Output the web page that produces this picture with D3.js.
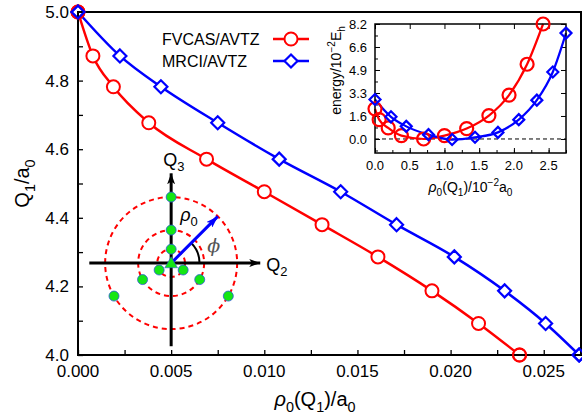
<!DOCTYPE html>
<html>
<head>
<meta charset="utf-8">
<script src="https://cdn.jsdelivr.net/npm/d3@7"></script>
<style>
  html, body { margin: 0; padding: 0; background: #fff; }
  svg { display: block; font-family: "Liberation Sans", Arial, Helvetica, sans-serif; }
</style>
</head>
<body>
<svg id="chart" width="582" height="416"></svg>
<script>
// ---- main panel data: Q1 along the path, rho0 for each method ----
const q1Values = [5.0, 4.872, 4.782, 4.677, 4.571, 4.476, 4.380, 4.286, 4.187, 4.092, 4.0];
const rhoFvcas = [0, 0.0008, 0.0019, 0.0038, 0.0069, 0.0100, 0.0131, 0.0161, 0.0190, 0.0215, 0.0237];
const rhoMrci  = [0, 0.00225, 0.00445, 0.0075, 0.0108, 0.0141, 0.0171, 0.0202, 0.0229, 0.0251, 0.0269];
const seriesNames = ["FVCAS/AVTZ", "MRCI/AVTZ"];
const xTicks = [0, 0.005, 0.010, 0.015, 0.020, 0.025];
const yTicks = [4.0, 4.2, 4.4, 4.6, 4.8, 5.0];

// ---- inset data: energy vs rho0 (in 10^-2 a0) ----
const insetRhoFvcas = [0, 0.06, 0.19, 0.38, 0.70, 1.00, 1.32, 1.64, 1.93, 2.19, 2.42];
const insetEFvcas   = [2.15, 1.38, 0.79, 0.24, 0.0, 0.24, 0.74, 1.67, 3.13, 5.33, 8.2];
const insetRhoMrci  = [0, 0.23, 0.45, 0.77, 1.11, 1.44, 1.77, 2.07, 2.33, 2.56, 2.75];
const insetEMrci    = [2.82, 1.58, 0.90, 0.31, -0.04, 0.12, 0.47, 1.38, 2.77, 4.78, 7.55];
const insetXTicks = [0, 0.5, 1.0, 1.5, 2.0, 2.5];
const insetYTicks = [0, 1.64, 3.28, 4.92, 6.56, 8.2];

// ---- schematic of the Q2/Q3 plane (unit = outer ring radius) ----
const ringRadii = [0.21, 0.5, 1.0];
const pointAngles = [90, 210, 330];
const rhoArrowAngle = 45;

const RED = "#ff0000", BLUE = "#0000ff", GREEN = "#14e614";
const svg = d3.select("#chart");

// text with sub/superscripts; parts = [text, mode, italic]
function rich(sel, parts, size) {
  let shift = 0;
  parts.forEach(([s, mode, ital]) => {
    const target = mode === "sub" ? 0.3 * size : mode === "sup" ? -0.42 * size : 0;
    const t = sel.append("tspan")
      .attr("dy", (target - shift).toFixed(2))
      .attr("font-size", mode ? size * 0.72 : size)
      .text(s);
    if (ital) t.attr("font-style", "italic");
    shift = target;
  });
  return sel;
}

const defs = svg.append("defs");
function arrowMarker(id, color, w, h) {
  defs.append("marker").attr("id", id)
    .attr("viewBox", `0 0 ${w} ${h}`).attr("refX", w).attr("refY", h / 2)
    .attr("markerWidth", w).attr("markerHeight", h).attr("markerUnits", "userSpaceOnUse")
    .attr("orient", "auto")
    .append("path").attr("d", `M0,0L${w},${h / 2}L0,${h}L${w * 0.25},${h / 2}Z`).attr("fill", color);
}
arrowMarker("arrBlack", "#000", 11, 8);
arrowMarker("arrBlue", BLUE, 12, 8);

// ================= main panel =================
const M = { left: 78, right: 581, top: 12, bottom: 355 };
const x = d3.scaleLinear().domain([0, 0.027]).range([M.left, M.right]);
const y = d3.scaleLinear().domain([4.0, 5.0]).range([M.bottom, M.top]);

// ticks (inward)
const gx = svg.append("g").attr("transform", `translate(0,${M.bottom})`)
  .call(d3.axisBottom(x).tickValues(d3.range(0, 0.0271, 0.0025)).tickSize(-5).tickFormat(""));
const gy = svg.append("g").attr("transform", `translate(${M.left},0)`)
  .call(d3.axisLeft(y).tickValues(d3.range(4.0, 5.001, 0.1)).tickSize(-5).tickFormat(""));
[gx, gy].forEach(g => { g.select(".domain").remove(); g.selectAll("line").attr("stroke", "#000").attr("stroke-width", 1.3); });

svg.append("g").selectAll("text").data(xTicks).join("text")
  .attr("x", d => x(d)).attr("y", M.bottom + 22).attr("text-anchor", "middle")
  .attr("font-size", 17).text(d3.format(".3f"));
svg.append("g").selectAll("text").data(yTicks).join("text")
  .attr("x", M.left - 9).attr("y", d => y(d) + 6).attr("text-anchor", "end")
  .attr("font-size", 17).text(d3.format(".1f"));

// axis titles
rich(svg.append("text").attr("x", 315).attr("y", 406).attr("text-anchor", "middle"),
  [["ρ", "", true], ["0", "sub"], ["(Q", ""], ["1", "sub"], [")/a", ""], ["0", "sub"]], 20);
rich(svg.append("text").attr("transform", `translate(29,${(M.top + M.bottom) / 2}) rotate(-90)`).attr("text-anchor", "middle"),
  [["Q", ""], ["1", "sub"], ["/a", ""], ["0", "sub"]], 20);

// ---- schematic ----
const cx = x(0.005), cy = y(4.268);
const u = d3.scaleLinear().domain([0, 1]).range([0, 66]);
const pol = (r, deg) => [cx + u(r) * Math.cos(deg * Math.PI / 180), cy - u(r) * Math.sin(deg * Math.PI / 180)];
const sch = svg.append("g");
sch.selectAll("circle.ring").data(ringRadii).join("circle").attr("class", "ring")
  .attr("cx", cx).attr("cy", cy).attr("r", d => u(d))
  .attr("fill", "none").attr("stroke", RED).attr("stroke-width", 2).attr("stroke-dasharray", "5,4");
sch.append("line").attr("x1", cx - u(1.24)).attr("y1", cy).attr("x2", cx + u(1.35)).attr("y2", cy)
  .attr("stroke", "#000").attr("stroke-width", 3).attr("marker-end", "url(#arrBlack)");
sch.append("line").attr("x1", cx).attr("y1", cy + u(1.26)).attr("x2", cx).attr("y2", cy - u(1.36))
  .attr("stroke", "#000").attr("stroke-width", 3).attr("marker-end", "url(#arrBlack)");
// angle arc
const arc = d3.arc().innerRadius(u(0.43)).outerRadius(u(0.43)).startAngle(Math.PI / 2 - rhoArrowAngle * Math.PI / 180).endAngle(Math.PI / 2);
sch.append("path").attr("transform", `translate(${cx},${cy})`).attr("d", arc())
  .attr("fill", "none").attr("stroke", "#000").attr("stroke-width", 2);
// rho0 arrow
const tip = pol(1.0, rhoArrowAngle);
sch.append("line").attr("x1", cx).attr("y1", cy).attr("x2", tip[0]).attr("y2", tip[1])
  .attr("stroke", BLUE).attr("stroke-width", 3).attr("marker-end", "url(#arrBlue)");
// sampled points
const pts = [];
ringRadii.forEach(r => pointAngles.forEach(a => pts.push(pol(r, a))));
sch.selectAll("circle.pt").data(pts).join("circle").attr("class", "pt")
  .attr("cx", d => d[0]).attr("cy", d => d[1]).attr("r", 5)
  .attr("fill", GREEN).attr("stroke", "#2a5bd7").attr("stroke-width", 0.8);
sch.append("path").attr("transform", `translate(${cx},${cy + 1})`)
  .attr("d", d3.symbol(d3.symbolTriangle, 70)()).attr("fill", GREEN).attr("stroke", "#2a5bd7").attr("stroke-width", 0.6);
// labels
rich(sch.append("text").attr("x", cx + u(1.44)).attr("y", cy + 8), [["Q", ""], ["2", "sub"]], 18);
rich(sch.append("text").attr("x", cx - 8).attr("y", cy - u(1.47)), [["Q", ""], ["3", "sub"]], 18);
rich(sch.append("text").attr("x", cx + 9).attr("y", cy - 42), [["ρ", "", true], ["0", "sub"]], 18);
sch.append("text").attr("x", cx + 36).attr("y", cy - 11).attr("font-size", 19).attr("font-style", "italic")
  .attr("font-family", "'DejaVu Serif', serif").attr("fill", "#555").text("ϕ");

// ---- curves ----
const line = d3.line().curve(d3.curveMonotoneX);
const mainSeries = [
  { name: seriesNames[0], color: RED, pts: rhoFvcas.map((r, i) => [x(r), y(q1Values[i])]), sym: "circle" },
  { name: seriesNames[1], color: BLUE, pts: rhoMrci.map((r, i) => [x(r), y(q1Values[i])]), sym: "diamond" }
];
function marker(g, sym, color, size) {
  if (sym === "circle") {
    return g.append("circle").attr("r", size).attr("fill", "#fff").attr("stroke", color).attr("stroke-width", 2);
  }
  const s = size;
  return g.append("path").attr("d", `M0,${-s}L${s},0L0,${s}L${-s},0Z`)
    .attr("fill", "#fff").attr("stroke", color).attr("stroke-width", 2.2);
}
mainSeries.forEach(s => {
  svg.append("path").attr("d", line(s.pts)).attr("fill", "none").attr("stroke", s.color).attr("stroke-width", 2.5);
});
mainSeries.forEach(s => {
  s.pts.forEach(p => {
    const g = svg.append("g").attr("transform", `translate(${p[0]},${p[1]})`);
    marker(g, s.sym, s.color, 6.5);
  });
});

// frame
svg.append("rect").attr("x", M.left).attr("y", M.top).attr("width", M.right - M.left).attr("height", M.bottom - M.top)
  .attr("fill", "none").attr("stroke", "#000").attr("stroke-width", 2);
// redraw end markers that sit on the frame
mainSeries.forEach(s => {
  [s.pts[0], s.pts[s.pts.length - 1]].forEach(p => {
    const g = svg.append("g").attr("transform", `translate(${p[0]},${p[1]})`);
    marker(g, s.sym, s.color, 6.5).attr("fill", "none");
  });
});

// legend
mainSeries.forEach((s, i) => {
  const ly = 39 + i * 22;
  svg.append("text").attr("x", 162).attr("y", ly + 6).attr("font-size", 16).text(s.name);
  svg.append("line").attr("x1", 273).attr("x2", 309).attr("y1", ly).attr("y2", ly)
    .attr("stroke", s.color).attr("stroke-width", 2.5);
  marker(svg.append("g").attr("transform", `translate(291,${ly})`), s.sym, s.color, 6.5);
});

// ================= inset =================
const I = { left: 375, right: 566, top: 24, bottom: 153 };
const xi = d3.scaleLinear().domain([0, 2.75]).range([I.left, I.right]);
const yi = d3.scaleLinear().domain([-1, 8.2]).range([I.bottom, I.top]);
svg.append("rect").attr("x", I.left).attr("y", I.top).attr("width", I.right - I.left).attr("height", I.bottom - I.top)
  .attr("fill", "#fff");
const ig = svg.append("g");
const tickStyle = g => { g.select(".domain").remove(); g.selectAll("line").attr("stroke", "#000").attr("stroke-width", 1); };
ig.append("g").attr("transform", `translate(0,${I.bottom})`)
  .call(d3.axisBottom(xi).tickValues(d3.range(0, 2.751, 0.25)).tickSize(-3).tickFormat("")).call(tickStyle);
ig.append("g").attr("transform", `translate(0,${I.bottom})`)
  .call(d3.axisBottom(xi).tickValues(insetXTicks).tickSize(-5).tickFormat("")).call(tickStyle);
ig.append("g").attr("transform", `translate(0,${I.top})`)
  .call(d3.axisTop(xi).tickValues(insetXTicks).tickSize(-5).tickFormat("")).call(tickStyle);
ig.append("g").attr("transform", `translate(${I.left},0)`)
  .call(d3.axisLeft(yi).tickValues(d3.range(-0.82, 8.21, 0.82)).tickSize(-3).tickFormat("")).call(tickStyle);
ig.append("g").attr("transform", `translate(${I.left},0)`)
  .call(d3.axisLeft(yi).tickValues(insetYTicks).tickSize(-5).tickFormat("")).call(tickStyle);
ig.append("g").attr("transform", `translate(${I.right},0)`)
  .call(d3.axisRight(yi).tickValues(insetYTicks).tickSize(-5).tickFormat("")).call(tickStyle);

ig.selectAll("text.xl").data(insetXTicks).join("text").attr("class", "xl")
  .attr("x", d => xi(d)).attr("y", I.bottom + 17).attr("text-anchor", "middle").attr("font-size", 13)
  .text(d3.format(".1f"));
ig.selectAll("text.yl").data(insetYTicks).join("text").attr("class", "yl")
  .attr("x", I.left - 8).attr("y", d => yi(d) + 5).attr("text-anchor", "end").attr("font-size", 13)
  .text(d3.format(".1f"));
rich(ig.append("text").attr("x", (I.left + I.right) / 2).attr("y", 192).attr("text-anchor", "middle"),
  [["ρ", "", true], ["0", "sub"], ["(Q", ""], ["1", "sub"], [")/10", ""], ["−2", "sup"], ["a", ""], ["0", "sub"]], 14);
rich(ig.append("text").attr("transform", `translate(341,${(I.top + I.bottom) / 2 - 18}) rotate(-90)`).attr("text-anchor", "middle"),
  [["energy/10", ""], ["−2", "sup"], ["E", ""], ["h", "sub"]], 14);

// zero reference
ig.append("line").attr("x1", I.left).attr("x2", I.right).attr("y1", yi(0)).attr("y2", yi(0))
  .attr("stroke", "#000").attr("stroke-width", 1).attr("stroke-dasharray", "4,3");

const insetSeries = [
  { color: RED, sym: "circle", size: 6.5, pts: insetRhoFvcas.map((r, i) => [xi(r), yi(insetEFvcas[i])]) },
  { color: BLUE, sym: "diamond", size: 5.5, pts: insetRhoMrci.map((r, i) => [xi(r), yi(insetEMrci[i])]) }
];
insetSeries.forEach(s => {
  ig.append("path").attr("d", line(s.pts)).attr("fill", "none").attr("stroke", s.color).attr("stroke-width", 2.2);
});
ig.append("rect").attr("x", I.left).attr("y", I.top).attr("width", I.right - I.left).attr("height", I.bottom - I.top)
  .attr("fill", "none").attr("stroke", "#000").attr("stroke-width", 1.5);
insetSeries.forEach(s => {
  s.pts.forEach(p => {
    const g = ig.append("g").attr("transform", `translate(${p[0]},${p[1]})`);
    marker(g, s.sym, s.color, s.size).attr("fill", "none").attr("stroke-width", 2.2);
  });
});
</script>
</body>
</html>
